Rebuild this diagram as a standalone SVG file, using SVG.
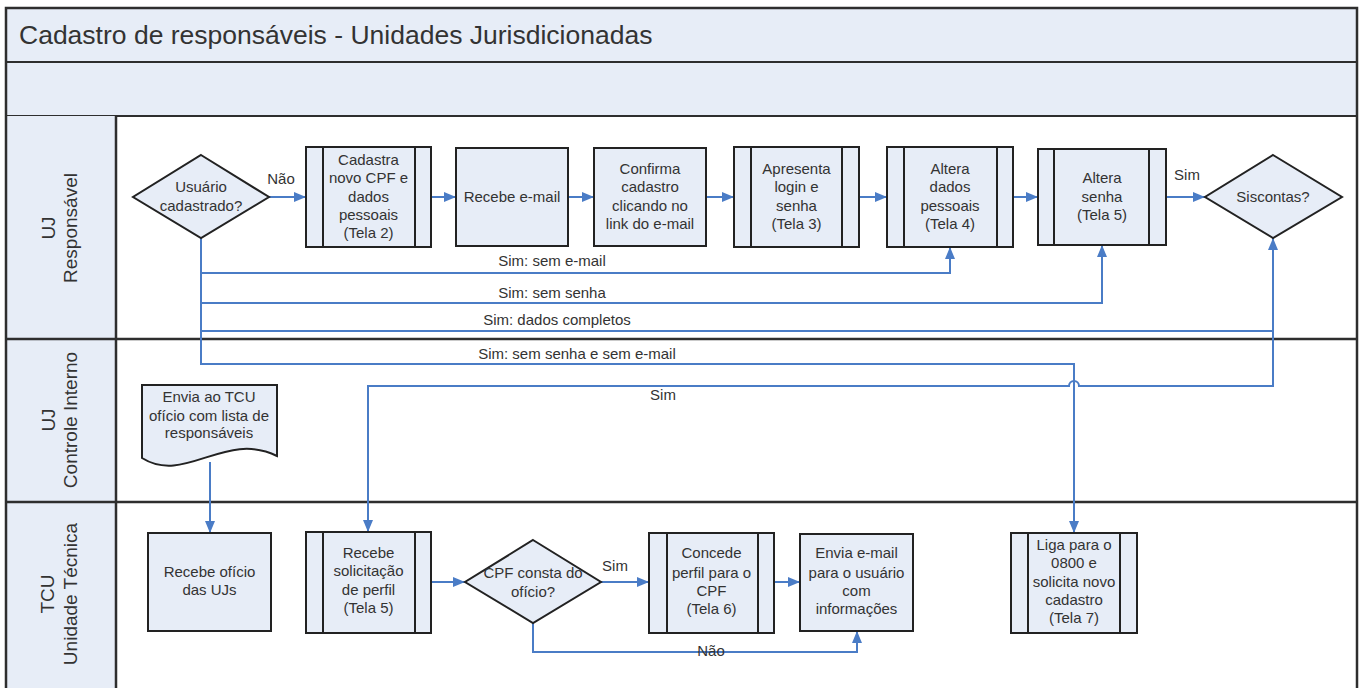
<svg xmlns="http://www.w3.org/2000/svg" width="1361" height="688" viewBox="0 0 1361 688">
<style>
text{font-family:"Liberation Sans",Arial,sans-serif;fill:#333;}
.t{font-size:15px;text-anchor:middle;}
.lane{font-size:19px;text-anchor:middle;}
.title{font-size:26.5px;}
.band{fill:#E7EDF7;stroke:#2e2e2e;stroke-width:2;}
.frame{fill:none;stroke:#2e2e2e;stroke-width:2.5;}
.sep{stroke:#2e2e2e;stroke-width:2.5;fill:none;}
.box{fill:#E7EDF7;stroke:#222;stroke-width:2;}
.bar{stroke:#222;stroke-width:2;fill:none;}
.c{fill:none;stroke:#4A7CC6;stroke-width:2;}
.ca{fill:none;stroke:#4A7CC6;stroke-width:2;marker-end:url(#arr);}
.lbl{font-size:15px;text-anchor:middle;}
</style>
<defs>
<marker id="arr" viewBox="0 0 12 10" refX="12" refY="5" markerWidth="12" markerHeight="10" orient="auto" markerUnits="userSpaceOnUse">
<path d="M0,0 L12,5 L0,10 Z" fill="#4A7CC6"/>
</marker>
</defs>
<rect width="1361" height="688" fill="#fff"/>

<g id="pool">
<rect class="band" x="6" y="8" width="1351" height="54"/>
<rect class="band" x="6" y="62" width="1351" height="54"/>
<text class="title" x="19" y="44">Cadastro de responsáveis - Unidades Jurisdicionadas</text>
<rect x="6" y="116" width="110" height="580" fill="#E7EDF7"/>
<rect class="frame" x="6" y="8" width="1351" height="690"/>
<line class="sep" x1="116" y1="116" x2="116" y2="690"/>
<line class="sep" x1="6" y1="339" x2="1357" y2="339"/>
<line class="sep" x1="6" y1="502" x2="1357" y2="502"/>
</g>

<g id="lane-uj-responsavel">
<text class="lane" transform="translate(55,228) rotate(-90)">UJ</text>
<text class="lane" transform="translate(77,228) rotate(-90)">Responsável</text>
</g>
<g id="lane-uj-controle">
<text class="lane" transform="translate(55,420) rotate(-90)">UJ</text>
<text class="lane" transform="translate(77,420) rotate(-90)">Controle Interno</text>
</g>
<g id="lane-tcu">
<text class="lane" transform="translate(54,594) rotate(-90)">TCU</text>
<text class="lane" transform="translate(77,594) rotate(-90)">Unidade Técnica</text>
</g>

<g id="connectors">
<path class="ca" d="M269,197 H306"/>
<path class="ca" d="M431,197 H456"/>
<path class="ca" d="M568,197 H594"/>
<path class="ca" d="M706,197 H734"/>
<path class="ca" d="M859,197 H887"/>
<path class="ca" d="M1013,197 H1038"/>
<path class="ca" d="M1166,197 H1205"/>
<path class="ca" d="M201,238 V273 H950 V247"/>
<path class="ca" d="M201,273 V303 H1102 V245"/>
<path class="ca" d="M201,303 V331 H1273 V238"/>
<path class="ca" d="M201,331 V364 H1074 V533"/>
<path class="ca" d="M1273,331 V386 H1079 A5,5 0 0 0 1069,386 H368 V532"/>
<path class="ca" d="M210,462 V533"/>
<path class="ca" d="M431,582 H465"/>
<path class="ca" d="M601,582 H649"/>
<path class="ca" d="M774,582 H800"/>
<path class="ca" d="M533,623 V652 H857 V631"/>
<text class="lbl" x="281" y="184">Não</text>
<text class="lbl" x="1187" y="180">Sim</text>
<text class="lbl" x="552" y="266">Sim: sem e-mail</text>
<text class="lbl" x="552" y="298">Sim: sem senha</text>
<text class="lbl" x="557" y="325">Sim: dados completos</text>
<text class="lbl" x="577" y="359">Sim: sem senha e sem e-mail</text>
<text class="lbl" x="663" y="400">Sim</text>
<text class="lbl" x="615" y="571">Sim</text>
<text class="lbl" x="711" y="656">Não</text>
</g>

<g id="usuario-cadastrado">
<polygon class="box" points="201,155 269,197 201,238 133,197"/>
<text class="t" x="201" y="192">Usuário</text>
<text class="t" x="201" y="211">cadastrado?</text>
</g>
<g id="cadastra-cpf">
<rect class="box" x="306" y="147" width="125" height="100"/>
<path class="bar" d="M323,147 V247 M415,147 V247"/>
<text class="t" x="368.5" y="165">Cadastra</text>
<text class="t" x="368.5" y="183">novo CPF e</text>
<text class="t" x="368.5" y="202">dados</text>
<text class="t" x="368.5" y="220">pessoais</text>
<text class="t" x="368.5" y="238">(Tela 2)</text>
</g>
<g id="recebe-email">
<rect class="box" x="456" y="148" width="112" height="98"/>
<text class="t" x="512" y="202">Recebe e-mail</text>
</g>
<g id="confirma-cadastro">
<rect class="box" x="594" y="148" width="112" height="98"/>
<text class="t" x="650" y="174">Confirma</text>
<text class="t" x="650" y="192">cadastro</text>
<text class="t" x="650" y="211">clicando no</text>
<text class="t" x="650" y="229">link do e-mail</text>
</g>
<g id="apresenta-login">
<rect class="box" x="734" y="147" width="125" height="100"/>
<path class="bar" d="M751,147 V247 M842,147 V247"/>
<text class="t" x="796.5" y="174">Apresenta</text>
<text class="t" x="796.5" y="192">login e</text>
<text class="t" x="796.5" y="211">senha</text>
<text class="t" x="796.5" y="229">(Tela 3)</text>
</g>
<g id="altera-dados">
<rect class="box" x="887" y="147" width="126" height="100"/>
<path class="bar" d="M904,147 V247 M997,147 V247"/>
<text class="t" x="950" y="174">Altera</text>
<text class="t" x="950" y="192">dados</text>
<text class="t" x="950" y="211">pessoais</text>
<text class="t" x="950" y="229">(Tela 4)</text>
</g>
<g id="altera-senha">
<rect class="box" x="1038" y="149" width="128" height="96"/>
<path class="bar" d="M1054,149 V245 M1149,149 V245"/>
<text class="t" x="1102" y="183">Altera</text>
<text class="t" x="1102" y="202">senha</text>
<text class="t" x="1102" y="220">(Tela 5)</text>
</g>
<g id="siscontas">
<polygon class="box" points="1273,155 1342,197 1273,238 1205,197"/>
<text class="t" x="1273" y="202">Siscontas?</text>
</g>

<g id="envia-oficio">
<path class="box" d="M142,385 H277 V456 C225,430 185,485 142,458 Z"/>
<text class="t" x="209" y="402">Envia ao TCU</text>
<text class="t" x="209" y="421">ofício com lista de</text>
<text class="t" x="209" y="438">responsáveis</text>
</g>

<g id="recebe-oficio">
<rect class="box" x="148" y="533" width="123" height="98"/>
<text class="t" x="209.5" y="577">Recebe ofício</text>
<text class="t" x="209.5" y="595">das UJs</text>
</g>
<g id="recebe-solicitacao">
<rect class="box" x="306" y="532" width="125" height="101"/>
<path class="bar" d="M323,532 V633 M415,532 V633"/>
<text class="t" x="368.5" y="558">Recebe</text>
<text class="t" x="368.5" y="576">solicitação</text>
<text class="t" x="368.5" y="595">de perfil</text>
<text class="t" x="368.5" y="613">(Tela 5)</text>
</g>
<g id="cpf-consta">
<polygon class="box" points="533,540 601,582 533,623 465,582"/>
<text class="t" x="533" y="578">CPF consta do</text>
<text class="t" x="533" y="597">ofício?</text>
</g>
<g id="concede-perfil">
<rect class="box" x="649" y="533" width="125" height="100"/>
<path class="bar" d="M667,533 V633 M758,533 V633"/>
<text class="t" x="711.5" y="558">Concede</text>
<text class="t" x="711.5" y="578">perfil para o</text>
<text class="t" x="711.5" y="596">CPF</text>
<text class="t" x="711.5" y="614">(Tela 6)</text>
</g>
<g id="envia-email">
<rect class="box" x="800" y="534" width="113" height="97"/>
<text class="t" x="856.5" y="558">Envia e-mail</text>
<text class="t" x="856.5" y="578">para o usuário</text>
<text class="t" x="856.5" y="596">com</text>
<text class="t" x="856.5" y="614">informações</text>
</g>
<g id="liga-0800">
<rect class="box" x="1011" y="533" width="126" height="100"/>
<path class="bar" d="M1028,533 V633 M1120,533 V633"/>
<text class="t" x="1074" y="550">Liga para o</text>
<text class="t" x="1074" y="568">0800 e</text>
<text class="t" x="1074" y="587">solicita novo</text>
<text class="t" x="1074" y="605">cadastro</text>
<text class="t" x="1074" y="623">(Tela 7)</text>
</g>
</svg>
